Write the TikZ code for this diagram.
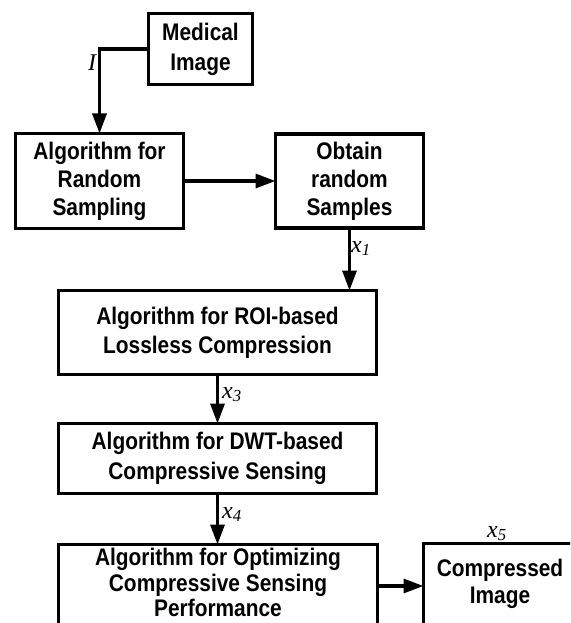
\documentclass[tikz,border=0pt]{standalone}
\usepackage{fontspec}
\setmainfont[FakeStretch=0.87]{Liberation Sans}
\newfontfamily\serifit{Liberation Serif}
\usetikzlibrary{arrows.meta}
\begin{document}
\begin{tikzpicture}[x=1pt,y=-1pt,
  box/.style={draw,line width=3.2pt,rectangle,inner sep=0pt,outer sep=0pt,align=center},
  bf/.style={font=\bfseries\fontsize{24}{#1}\selectfont},
  txt/.style={inner sep=0pt,align=center},
  arr/.style={line width=3.2pt,-{Triangle[length=20pt,width=14pt]}},
  lab/.style={inner sep=0pt,font=\serifit\itshape\fontsize{24}{24}\selectfont}]
\useasboundingbox (0,0) rectangle (570,623);
\clip (0,0) rectangle (570,623);
\node[box,bf=30,minimum width=104pt,minimum height=71pt] (med) at (200.5,49) {Medical\\Image};
\node[box,bf=28,minimum width=168pt,minimum height=95pt] (rs) at (99.5,181) {Algorithm for\\Random\\Sampling};
\node[box,bf=28,minimum width=148pt,minimum height=94pt] (ob) at (349.5,181) {Obtain\\random\\Samples};
\node[box,bf=29,minimum width=318pt,minimum height=84pt] (roi) at (217.5,332.5) {Algorithm for ROI-based\\Lossless Compression};
\node[box,bf=30,minimum width=318pt,minimum height=70pt] (dwt) at (217.5,458.5) {Algorithm for DWT-based\\Compressive Sensing};
\node[box,minimum width=319pt,minimum height=83pt] (opt) at (218,586) {};
\node[txt,bf=25.5] (optt) at (218,582.5) {Algorithm for Optimizing\\Compressive Sensing\\Performance};
\node[box,minimum width=153pt,minimum height=85pt] (comp) at (500,586) {};
\node[txt,bf=27] (compt) at (500,583.5) {Compressed\\Image};
\draw[arr] (med.west) -| (rs.north);
\draw[arr] (rs.east) -- (ob.west);
\draw[arr] (ob.south) -- (ob.south |- roi.north);
\draw[arr] (roi.south) -- (dwt.north);
\draw[arr] (dwt.south) -- (dwt.south |- opt.north);
\draw[arr] (opt.east) -- (comp.west);
\node[lab] (lI) at (92,63) {I};
\node[lab,anchor=base west] (lx1) at (351,252) {x\textsubscript{1}};
\node[lab,anchor=base west] (lx3) at (222,398) {x\textsubscript{3}};
\node[lab,anchor=base west] (lx4) at (222,518) {x\textsubscript{4}};
\node[lab,anchor=base west] (lx5) at (487,537) {x\textsubscript{5}};
\end{tikzpicture}
\end{document}
